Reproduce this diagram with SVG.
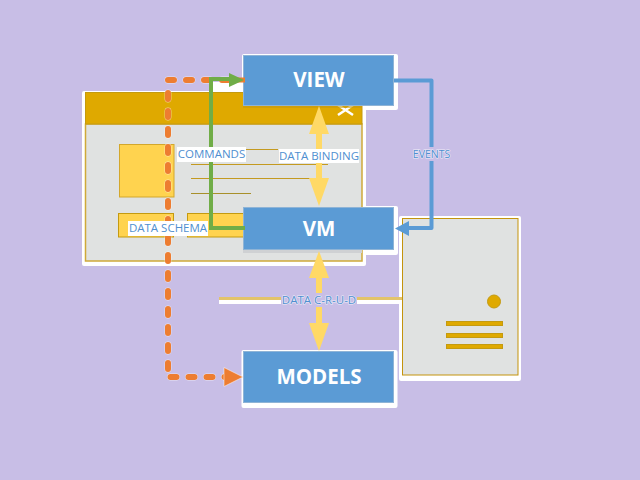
<svg xmlns="http://www.w3.org/2000/svg" width="640" height="480" viewBox="0 0 640 480">
<style>
.halo{fill:#fff}
.node{fill:#5b9bd5;stroke:#8fb4d6;stroke-width:1}
.nt{font-family:"Open Sans","Liberation Sans",sans-serif;font-weight:700;font-size:20.500px;fill:#fff;text-anchor:middle}
.lb{font-family:"Open Sans","Liberation Sans",sans-serif;font-size:11.500px;fill:#4f8fd0;text-anchor:middle}
.lo{paint-order:stroke;stroke:#fff;stroke-width:1.200px;stroke-opacity:.7}
.lbg{fill:#fff}
.gold{fill:#dfa900;stroke:#c49a10;stroke-width:1}
.yel{fill:#ffd34f;stroke:#d3a72c;stroke-width:1}
.ln{stroke:#c49a20;stroke-width:1;fill:none}
.y{stroke:#ffd966;stroke-width:6;fill:none}
.or{fill:none;stroke-linecap:round;stroke-dasharray:6 12}
</style>
<rect width="640" height="480" fill="#c8bee6"/>
<g id="halos">
<rect class="halo" x="242" y="54" width="156" height="56" rx="2"/>
<rect class="halo" x="242" y="206" width="156" height="49" rx="2"/>
<rect class="halo" x="213" y="82" width="32" height="12"/>
</g>
<g id="window">
<rect class="halo" x="82" y="91" width="284" height="175" rx="2"/>
<rect x="85.500" y="124" width="276.500" height="137" fill="#e0e2e1" stroke="#cfa93a" stroke-width="1.500"/>
<rect class="gold" x="85.500" y="92.500" width="276.500" height="31.500"/>
<path d="M338 105L353 115M353 105L338 115" stroke="#fff" stroke-width="2.500" fill="none"/>
<rect class="yel" x="119.500" y="144.500" width="54.500" height="52.500"/>
<path class="ln" d="M191 149.500H278M191 164.500H328M191 178.500H328"/>
<path d="M191 193.500H251" stroke="#a8902a" stroke-width="1" fill="none"/>
<rect class="yel" x="118.500" y="213.500" width="55" height="23.500" style="stroke:#c49a10"/>
<rect class="yel" x="187.500" y="213.500" width="60" height="23.500" style="stroke:#c49a10"/>
<rect x="243" y="105" width="119" height="3" fill="#c49a10" opacity=".6"/>
<rect x="243" y="250" width="119" height="3" fill="#cfd1d3"/>
</g>
<g id="server">
<rect class="halo" x="399" y="216" width="122" height="165" rx="2"/>
<rect x="402.500" y="218.500" width="115.500" height="156.500" fill="#e0e2e1" stroke="#c4940c" stroke-width="1"/>
<circle class="gold" cx="494" cy="301.500" r="6.500"/>
<rect class="gold" x="446.500" y="321.500" width="56" height="4"/>
<rect class="gold" x="446.500" y="333.500" width="56" height="4"/>
<rect class="gold" x="446.500" y="344.500" width="56" height="4"/>
</g>
<g id="view">
<rect class="node" x="243.500" y="55.500" width="150" height="50"/>
<text class="nt" x="319" y="87">VIEW</text>
</g>
<g id="vm">
<rect class="node" x="243.500" y="207.500" width="150" height="42"/>
<text class="nt" x="319" y="236">VM</text>
</g>
<g id="models">
<rect class="halo" x="241.500" y="350" width="156" height="58" rx="2"/>
<rect class="node" x="243.500" y="351.500" width="150" height="51"/>
<text class="nt" x="319" y="384">MODELS</text>
</g>
<g id="connectors">
<path d="M219 301H402" stroke="#fff" stroke-width="6" fill="none"/>
<path d="M219 298.500H402" stroke="#e3c46a" stroke-width="3" fill="none"/>
<g class="or" stroke="#fff" stroke-width="6.800" stroke-opacity=".6">
<path d="M168 80H228"/><path d="M168 93V369"/><path d="M170.500 377H226"/>
</g>
<g class="or" stroke="#ed7d31" stroke-width="6">
<path d="M168 80H228"/><path d="M168 93V369"/><path d="M170.500 377H226"/>
</g>
<path d="M228 80H245" stroke="#ed7d31" stroke-width="5" fill="none"/>
<path d="M224 367.500L243 377L224 386.500Z" fill="#ed7d31" stroke="#fff" stroke-width=".5"/>
<path d="M245 228H211V79H230" stroke="#70ad47" stroke-width="4" fill="none"/>
<path d="M229 73L244 80L229 87Z" fill="#70ad47"/>
<path d="M394 80.500H431.500V228H408" stroke="#5b9bd5" stroke-width="4" fill="none" stroke-linejoin="round"/>
<path d="M395 228.500L409 221V236Z" fill="#5b9bd5"/>
<path class="y" d="M319 125V190"/>
<path d="M319 106L329 134H309Z" fill="#ffd966"/>
<path d="M309 178H329L319 206Z" fill="#ffd966"/>
<path class="y" d="M319 270V330"/>
<path d="M319 251L329 278H309Z" fill="#ffd966"/>
<path d="M309 323H329L319 351Z" fill="#ffd966"/>
</g>
<g id="labels">
<rect class="lbg" x="177" y="147" width="69" height="15"/>
<text class="lb" x="211.500" y="158">COMMANDS</text>
<rect class="lbg" x="279" y="149" width="80" height="14"/>
<text class="lb" x="319" y="160">DATA BINDING</text>
<rect class="lbg" x="128" y="221" width="80" height="15"/>
<text class="lb" x="168" y="232">DATA SCHEMA</text>
<rect x="411" y="147" width="41" height="14" fill="#c8bee6"/>
<text class="lb lo" x="431.500" y="158" style="font-size:10.500px">EVENTS</text>
<rect x="281" y="293" width="76" height="14" fill="#c8bee6"/>
<text class="lb lo" x="319" y="304">DATA C-R-U-D</text>
</g>
</svg>
